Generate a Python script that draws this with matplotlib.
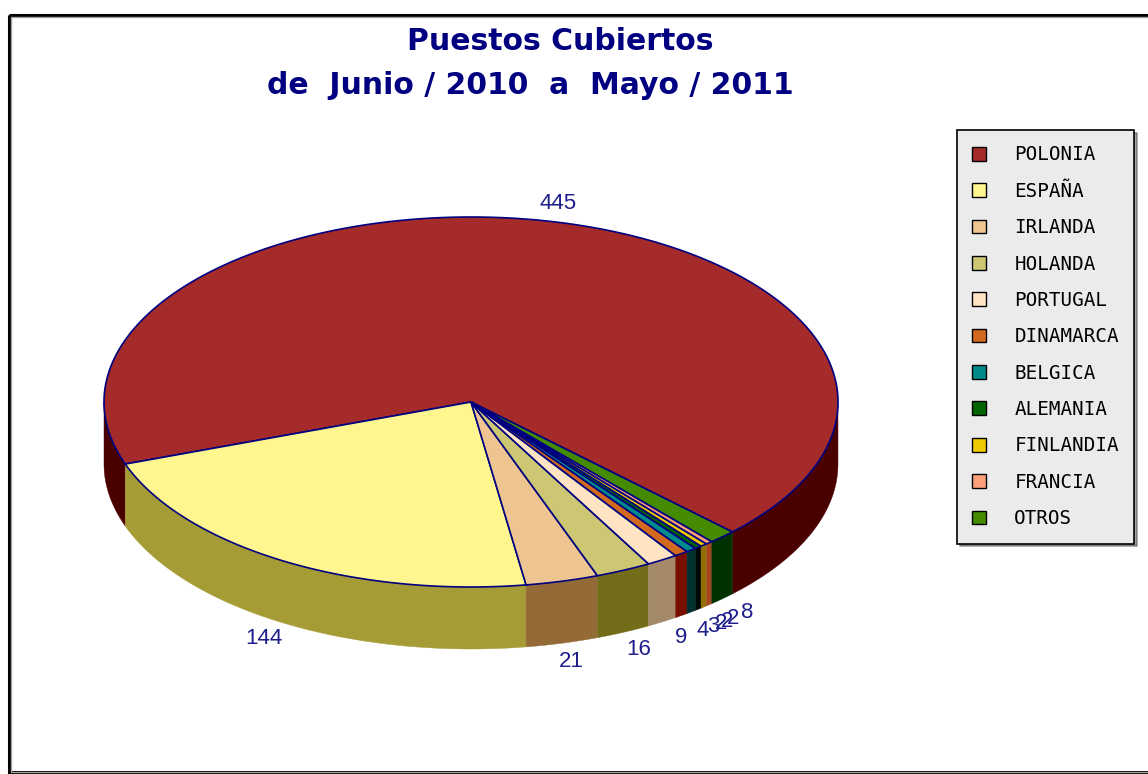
import numpy as np
import matplotlib.pyplot as plt
from matplotlib.patches import Patch, Rectangle

# data
countries = ['POLONIA', 'ESPAÑA', 'IRLANDA', 'HOLANDA', 'PORTUGAL', 'DINAMARCA',
             'BELGICA', 'ALEMANIA', 'FINLANDIA', 'FRANCIA', 'OTROS']
values = [445, 144, 21, 16, 9, 4, 3, 2, 2, 2, 8]
colors = ['#A52A2A', '#FFF68F', '#EEC591', '#CDC673', '#FFE4C4', '#D2691E',
          '#008B8B', '#006400', '#EEC900', '#FFA07A', '#458B00']
title1 = 'Puestos Cubiertos'
title2 = 'de  Junio / 2010  a  Mayo / 2011'

# pie geometry (pixels)
cx, cy = 471, 402
rx, ry = 367, 185
depth = 62
start = -44.6
navy = '#000080'
lab_col = '#1E1E8C'


def darker(c, amt=90):
    r, g, b = [int(c[i:i + 2], 16) for i in (1, 3, 5)]
    return tuple(max(v - amt, 0) / 255 for v in (r, g, b))


fig = plt.figure(figsize=(11.48, 7.74), dpi=100)
ax = fig.add_axes([0, 0, 1, 1])
ax.set_xlim(0, 1148)
ax.set_ylim(774, 0)
ax.axis('off')

# outer frame
ax.add_patch(Rectangle((9, 15), 1160, 757, fill=False, edgecolor='black', lw=2.2))
ax.add_patch(Rectangle((11, 17), 1160, 755, fill=False, edgecolor='#A0A0A0', lw=1))

frac = np.array(values) / sum(values)
edges = start + 360 * np.concatenate([[0], np.cumsum(frac)])

# side walls (front half only)
for i, c in enumerate(colors):
    th = np.radians(np.linspace(edges[i], edges[i + 1], 400))
    front = np.sin(th) <= 0
    idx = np.where(front)[0]
    if len(idx) == 0:
        continue
    runs = np.split(idx, np.where(np.diff(idx) != 1)[0] + 1)
    for run in runs:
        t = th[run]
        x = cx + rx * np.cos(t)
        y = cy - ry * np.sin(t)
        xs = np.concatenate([x, x[::-1]])
        ys = np.concatenate([y, y[::-1] + depth])
        ax.fill(xs, ys, color=darker(c), lw=0.3, ec=darker(c))

# top face
for i, c in enumerate(colors):
    th = np.radians(np.linspace(edges[i], edges[i + 1], 400))
    xs = np.concatenate([[cx], cx + rx * np.cos(th), [cx]])
    ys = np.concatenate([[cy], cy - ry * np.sin(th), [cy]])
    ax.fill(xs, ys, color=c, ec=navy, lw=1.2)

# value labels
for i, v in enumerate(values):
    m = np.radians((edges[i] + edges[i + 1]) / 2)
    lx = cx + 1.1 * rx * np.cos(m)
    ly = cy - 1.1 * ry * np.sin(m)
    if np.sin(m) < 0:
        ly += depth
    ax.text(lx, ly, str(v), ha='center', va='center', color=lab_col,
            fontsize=16, family='Liberation Sans')

# title
ax.text(560, 42, title1, ha='center', va='center', color=navy,
        fontsize=21.5, fontweight='bold', family='DejaVu Sans')
ax.text(530, 86, title2, ha='center', va='center', color=navy,
        fontsize=21.5, fontweight='bold', family='DejaVu Sans')

handles = [Patch(facecolor=c, edgecolor='black', lw=1) for c in colors]
leg = fig.legend(handles, countries, loc='upper left',
                 bbox_to_anchor=(957 / 1148, 1 - 130 / 774),
                 prop={'family': 'DejaVu Sans Mono', 'size': 13.9},
                 frameon=True, fancybox=False, shadow=True, framealpha=1,
                 facecolor='#EBEBEB', edgecolor='black',
                 handlelength=0.72, handleheight=0.72, handletextpad=1.45,
                 labelspacing=0.9, borderpad=0.8, borderaxespad=0)
leg.get_frame().set_linewidth(1.2)

fig.savefig('out.png', dpi=100)
